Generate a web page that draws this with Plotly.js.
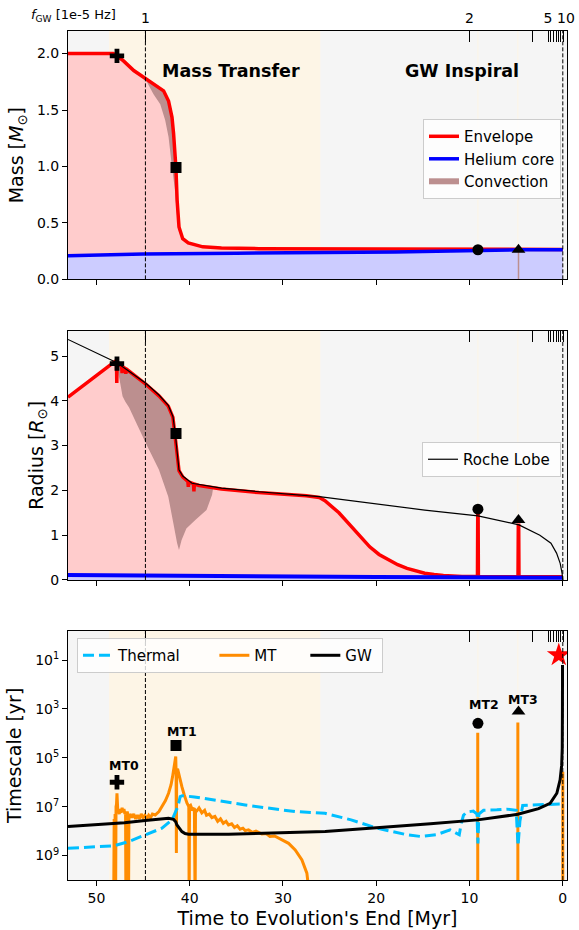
<!DOCTYPE html>
<html>
<head>
<meta charset="utf-8">
<script src="https://cdn.plot.ly/plotly-3.0.1.min.js"></script>
<style>html,body{margin:0;padding:0;background:#fff;}#plot{width:579px;height:930px;}</style>
</head>
<body>
<div id="plot"></div>
<script>
// ---------------- DATA ----------------
// Time to evolution's end [Myr]
const xTicks = [50, 40, 30, 20, 10, 0];

// Top axis: GW frequency ticks (1e-5 Hz) and the times where they fall
const fgwMajorLabel = ['1', '2', '5', '10'];
const fgwMajorTime  = [44.75, 10.0, 1.35, -0.1];
const fgwMinorLabel = ['3', '4', '6', '7', '8', '9'];
const fgwMinorTime  = [3.2, 1.55, 0.95, 0.68, 0.42, 0.2];

// Phases
const mtPhaseStart = [48.65, 9.15, 4.87];
const mtPhaseEnd   = [26.0, 9.05, 4.77];
const dashedTimes  = [44.75, 0.0];

// Panel 1: Mass
const envTimeM = [53.05, 48.2, 47.8, 47.1, 46.0, 44.66, 43.5, 42.8, 42.27, 41.9, 41.73, 41.55, 41.48, 41.35, 41.15, 40.75, 40.16, 38.6, 36.6, 32.6, 26.0, 15.0, 9.1, 4.7, 0.0];
const envMass  = [2.0, 2.0, 1.98, 1.935, 1.85, 1.774, 1.715, 1.67, 1.58, 1.435, 1.29, 1.11, 0.99, 0.70, 0.464, 0.36, 0.323, 0.288, 0.278, 0.272, 0.27, 0.268, 0.268, 0.266, 0.265];
const coreTimeM = [53.05, 45.0, 35.0, 25.0, 18.0, 12.0, 8.0, 4.0, 0.0];
const coreMass  = [0.21, 0.225, 0.232, 0.236, 0.242, 0.252, 0.258, 0.261, 0.262];
const convTopTimeM = [44.66, 43.5, 42.8, 42.27, 41.9, 41.73, 41.55, 41.48, 41.35, 41.15, 41.0];
const convTopMass  = [1.774, 1.715, 1.67, 1.58, 1.435, 1.29, 1.11, 0.99, 0.70, 0.464, 0.40];
const convLowTimeM = [44.66, 43.88, 43.16, 42.63, 42.27, 41.98, 41.6, 41.35, 41.15, 41.0];
const convLowMass  = [1.76, 1.64, 1.55, 1.41, 1.26, 1.05, 0.80, 0.55, 0.42, 0.40];
const convSpikeTimeM = [4.75, 4.75];
const convSpikeMass  = [0.0, 0.26];

// Panel 2: Radius
const envTimeR = [53.05, 50.5, 48.5, 47.85, 47.82, 47.79, 47.5, 47.3, 47.25, 47.2, 46.9, 46.85, 46.8, 45.6, 44.7, 43.3, 42.3, 41.8, 41.55, 41.35, 41.15, 40.75, 40.2, 40.15, 40.1, 39.6, 39.55, 39.5, 39.0, 36.6, 32.6, 27.5, 26.1, 25.5, 24.0, 23.0, 21.7, 20.7, 19.7, 18.7, 17.7, 16.7, 15.7, 14.8, 13.8, 12.8, 10.8, 9.15, 9.12, 9.08, 9.05, 4.8, 4.77, 4.73, 4.7, 0.0];
const envRadius = [4.08, 4.47, 4.8, 4.9, 4.40, 4.88, 4.8, 4.77, 4.62, 4.76, 4.72, 4.6, 4.71, 4.52, 4.37, 4.11, 3.88, 3.63, 3.25, 2.81, 2.44, 2.3, 2.2, 2.08, 2.19, 2.15, 1.98, 2.14, 2.11, 2.03, 1.95, 1.88, 1.84, 1.77, 1.5, 1.27, 0.97, 0.74, 0.57, 0.45, 0.34, 0.26, 0.2, 0.15, 0.12, 0.10, 0.08, 0.075, 1.45, 1.45, 0.075, 0.072, 1.22, 1.22, 0.072, 0.07];
const coreTimeR = [53.05, 40.0, 20.0, 0.0];
const coreRadius = [0.11, 0.085, 0.065, 0.05];
const rocheTime = [53.05, 47.8, 44.7, 43.3, 42.3, 41.8, 41.55, 41.35, 41.15, 40.75, 39.76, 36.6, 32.6, 26.1, 20.7, 14.8, 9.1, 4.7, 2.46, 1.27, 0.67, 0.28, 0.08, 0.0];
const rocheRadius = [5.37, 4.85, 4.39, 4.13, 3.9, 3.65, 3.27, 2.83, 2.46, 2.32, 2.16, 2.05, 1.97, 1.86, 1.71, 1.56, 1.43, 1.23, 1.0, 0.82, 0.6, 0.37, 0.15, 0.0];
const convTopTimeR = [47.8, 47.5, 46.8, 45.6, 44.7, 43.3, 42.3, 41.8, 41.55, 41.35, 41.15, 40.75, 40.2, 39.0, 37.5];
const convTopRadius = [4.88, 4.8, 4.71, 4.52, 4.37, 4.11, 3.88, 3.63, 3.25, 2.81, 2.44, 2.3, 2.2, 2.11, 2.06];
const convLowTimeR = [47.8, 47.5, 47.2, 46.9, 46.5, 45.6, 44.7, 43.3, 42.3, 41.75, 41.35, 41.15, 40.87, 40.36, 39.4, 38.2, 37.6, 37.5];
const convLowRadius = [4.76, 4.45, 4.1, 3.98, 3.85, 3.45, 3.05, 2.46, 1.86, 1.26, 0.82, 0.67, 0.89, 1.15, 1.34, 1.56, 1.9, 2.04];

// Panel 3: Timescales, log10(yr)
const thermalTime = [53.05, 48.1, 46.56, 44.77, 42.98, 41.9, 41.27, 41.02, 40.8, 39.5, 37.6, 34.05, 30.2, 28.7, 25.5, 22.7, 19.9, 16.7, 15.2, 13.6, 12.08, 11.3, 11.1, 10.9, 10.65, 10.3, 9.6, 9.2, 9.1, 9.0, 8.5, 7.07, 6.0, 5.0, 4.8, 4.6, 4.3, 3.5, 2.0, 0.16, 0.0];
const thermalLog = [8.70, 8.6, 8.43, 8.15, 7.88, 7.54, 7.0, 6.59, 6.55, 6.6, 6.72, 6.93, 7.13, 7.2, 7.27, 7.54, 7.88, 8.15, 8.22, 8.15, 7.95, 8.1, 8.15, 7.7, 7.35, 7.22, 7.18, 7.3, 8.5, 7.3, 7.15, 7.13, 7.1, 7.15, 8.6, 7.6, 6.95, 6.93, 6.9, 6.89, 6.89];
const mtTime = [48.15, 48.1, 48.05, 48.0, 47.95, 47.9, 47.85, 47.8, 47.75, 47.7, 47.65, 47.55, 47.45, 47.35, 47.25, 47.15, 47.05, 46.95, 46.88, 46.84, 46.8, 46.7, 46.6, 46.56, 46.52, 46.4, 46.2, 46.0, 45.8, 45.6, 45.4, 45.2, 45.0, 44.8, 44.6, 44.4, 44.2, 44.0, 43.7, 43.3, 42.98, 42.6, 42.27, 42.0, 41.84, 41.63, 41.5, 41.46, 41.43, 41.4, 41.3, 41.2, 41.0, 40.84, 40.6, 40.45, 40.3, 40.1, 40.06, 40.02, 39.9, 39.7, 39.5, 39.42, 39.38, 39.3, 39.0, 38.7, 38.4, 38.2, 37.9, 37.62, 37.3, 37.0, 36.7, 36.4, 36.1, 35.84, 35.5, 35.2, 34.9, 34.6, 34.3, 34.05, 33.7, 33.3, 32.9, 32.26, 31.8, 31.4, 30.9, 30.48, 30.0, 29.4, 28.69, 27.97, 27.44, 27.2, 27.1, 20.0, 9.12, 9.12, 7.0, 4.82, 4.82, 2.0, 0.0, 0.0];
const mtLog = [11, 7.5, 11, 7.3, 11, 7.0, 6.9, 6.45, 7.1, 7.25, 7.15, 7.3, 7.1, 7.25, 7.05, 7.2, 7.1, 7.3, 7.2, 11, 7.35, 7.2, 7.4, 11, 7.5, 7.3, 7.45, 7.3, 7.5, 7.35, 7.5, 7.3, 7.45, 7.35, 7.5, 7.35, 7.45, 7.3, 7.34, 7.2, 7.0, 6.75, 6.45, 6.1, 5.77, 5.22, 4.95, 5.6, 8.9, 5.5, 5.45, 5.63, 5.9, 6.18, 6.5, 6.7, 6.85, 7.0, 11, 7.0, 6.95, 7.15, 7.05, 11, 7.1, 7.2, 7.05, 7.25, 7.15, 7.35, 7.3, 7.45, 7.4, 7.6, 7.5, 7.68, 7.6, 7.75, 7.7, 7.85, 7.78, 7.92, 7.88, 7.98, 7.95, 8.05, 8.0, 8.12, 8.1, 8.22, 8.2, 8.3, 8.38, 8.5, 8.77, 9.18, 9.72, 10.5, 11, null, 11, 3.97, null, 11, 3.56, null, 11, 5.57];
const gwTime = [53.05, 50.1, 47.0, 44.77, 42.27, 41.73, 41.5, 41.37, 41.1, 40.84, 40.5, 40.13, 35.84, 30.0, 25.48, 20.7, 16.7, 14.2, 9.11, 6.8, 4.82, 2.6, 1.36, 0.64, 0.29, 0.12, 0.06, 0.04, 0.03];
const gwLog = [7.81, 7.75, 7.66, 7.57, 7.47, 7.52, 7.62, 7.75, 7.9, 8.02, 8.1, 8.13, 8.13, 8.08, 8.02, 7.88, 7.78, 7.7, 7.54, 7.43, 7.31, 7.08, 6.86, 6.45, 5.9, 5.3, 4.6, 3.0, 1.2];

// Markers for MT0..MT3
const mtLabels   = ['MT0', 'MT1', 'MT2', 'MT3'];
const mtSymbols  = ['cross', 'square', 'circle', 'triangle-up'];
const mtMarkTime = [47.8, 41.47, 9.1, 4.75];
const mtMarkMass = [1.98, 0.99, 0.262, 0.262];
const mtMarkRadius = [4.83, 3.27, 1.58, 1.34];
const mtMarkLog  = [6.0, 4.5, 3.59, 3.11];
const mtLabelTime = [47.1, 40.84, 8.5, 4.22];
const mtLabelLog  = [5.32, 3.93, 2.8, 2.6];
const endTime = [0.43];
const endLog  = [0.8];

const regionLabels = ['Mass Transfer', 'GW Inspiral'];
const regionLabelTime = [35.56, 10.79];
const regionLabelMass = [1.85, 1.85];

// ---------------- STYLE ----------------
const FONT = 'DejaVu Sans, Liberation Sans, sans-serif';
const RED = '#ff0000', BLUE = '#0000ff', PINK = '#ffcccc', LAV = '#ccccff', CONV = '#bc8f8f';
const ORANGE = '#ff8c00', SKY = '#00bfff';
const tRange = [53.05, -0.45];
const pow10 = a => a.map(v => v === null ? null : Math.pow(10, v));
const rev = a => a.slice().reverse();
const NB = '\u00a0';
// small spacing so the crowded "5" and "10" labels stay apart
const fgwMajorText = fgwMajorLabel.map(s => s === '5' ? s + NB : (s === '10' ? NB + s : s));

const traces = [];
// ---- panel 1
traces.push({x: envTimeM, y: envMass, xaxis: 'x', yaxis: 'y', mode: 'none', fill: 'tozeroy', fillcolor: PINK, showlegend: false, hoverinfo: 'skip'});
traces.push({x: coreTimeM, y: coreMass, xaxis: 'x', yaxis: 'y', mode: 'none', fill: 'tozeroy', fillcolor: LAV, showlegend: false, hoverinfo: 'skip'});
traces.push({x: convTopTimeM.concat(rev(convLowTimeM)), y: convTopMass.concat(rev(convLowMass)), xaxis: 'x', yaxis: 'y', mode: 'none', fill: 'toself', fillcolor: CONV, name: 'Convection', legend: 'legend', legendrank: 3});
traces.push({x: convSpikeTimeM, y: convSpikeMass, xaxis: 'x', yaxis: 'y', mode: 'lines', line: {color: CONV, width: 1.5}, showlegend: false});
traces.push({x: envTimeM, y: envMass, xaxis: 'x', yaxis: 'y', mode: 'lines', line: {color: RED, width: 3.5}, name: 'Envelope', legend: 'legend', legendrank: 1});
traces.push({x: coreTimeM, y: coreMass, xaxis: 'x', yaxis: 'y', mode: 'lines', line: {color: BLUE, width: 3.5}, name: 'Helium core', legend: 'legend', legendrank: 2});
// ---- panel 2
traces.push({x: envTimeR, y: envRadius, xaxis: 'x2', yaxis: 'y2', mode: 'none', fill: 'tozeroy', fillcolor: PINK, showlegend: false, hoverinfo: 'skip'});
traces.push({x: convTopTimeR.concat(rev(convLowTimeR)), y: convTopRadius.concat(rev(convLowRadius)), xaxis: 'x2', yaxis: 'y2', mode: 'none', fill: 'toself', fillcolor: CONV, showlegend: false});
traces.push({x: coreTimeR, y: coreRadius, xaxis: 'x2', yaxis: 'y2', mode: 'none', fill: 'tozeroy', fillcolor: LAV, showlegend: false, hoverinfo: 'skip'});
traces.push({x: envTimeR, y: envRadius, xaxis: 'x2', yaxis: 'y2', mode: 'lines', line: {color: RED, width: 3.5}, showlegend: false});
traces.push({x: coreTimeR, y: coreRadius, xaxis: 'x2', yaxis: 'y2', mode: 'lines', line: {color: BLUE, width: 4}, showlegend: false});
traces.push({x: rocheTime, y: rocheRadius, xaxis: 'x2', yaxis: 'y2', mode: 'lines', line: {color: '#000', width: 1.2}, name: 'Roche Lobe' + NB, legend: 'legend2'});
// ---- panel 3
traces.push({x: mtTime, y: pow10(mtLog), xaxis: 'x3', yaxis: 'y3', mode: 'lines', line: {color: ORANGE, width: 3}, name: 'MT' + NB.repeat(5), legend: 'legend3', legendrank: 2, connectgaps: false});
traces.push({x: thermalTime, y: pow10(thermalLog), xaxis: 'x3', yaxis: 'y3', mode: 'lines', line: {color: SKY, width: 3, dash: '11px,5px'}, name: 'Thermal' + NB.repeat(6), legend: 'legend3', legendrank: 1});
traces.push({x: gwTime, y: pow10(gwLog), xaxis: 'x3', yaxis: 'y3', mode: 'lines', line: {color: '#000', width: 3}, name: 'GW' + NB, legend: 'legend3', legendrank: 3});
// ---- markers
const msize = {'cross': 12, 'square': 11, 'circle': 11, 'triangle-up': 12};
mtSymbols.forEach((s, i) => {
  const mk = {symbol: s, size: msize[s], color: '#000'};
  traces.push({x: [mtMarkTime[i]], y: [mtMarkMass[i]], xaxis: 'x', yaxis: 'y', mode: 'markers', marker: mk, showlegend: false});
  traces.push({x: [mtMarkTime[i]], y: [mtMarkRadius[i]], xaxis: 'x2', yaxis: 'y2', mode: 'markers', marker: mk, showlegend: false});
  traces.push({x: [mtMarkTime[i]], y: pow10([mtMarkLog[i]]), xaxis: 'x3', yaxis: 'y3', mode: 'markers', marker: mk, showlegend: false});
});
traces.push({x: endTime, y: pow10(endLog), xaxis: 'x3', yaxis: 'y3', mode: 'markers', marker: {symbol: 'star', size: 18, color: RED}, showlegend: false});
// dummy traces for top (frequency) axes
traces.push({x: [], y: [], xaxis: 'x4', yaxis: 'y', showlegend: false});
traces.push({x: [], y: [], xaxis: 'x5', yaxis: 'y2', showlegend: false});
traces.push({x: [], y: [], xaxis: 'x6', yaxis: 'y3', showlegend: false});

// ---------------- LAYOUT ----------------
const tickFont = {family: FONT, size: 14, color: '#000'};
const titleFont = {family: FONT, size: 19, color: '#000'};
function xAxis(anchor, labels) {
  return {anchor: anchor, domain: [0, 1], range: tRange, tickmode: 'array', tickvals: xTicks,
    ticktext: xTicks.map(String), showticklabels: labels, ticks: 'outside', ticklen: 5, tickwidth: 1, tickcolor: '#000',
    showline: true, mirror: true, linecolor: '#000', linewidth: 1, showgrid: false, zeroline: false, tickfont: tickFont, tickangle: 0};
}
function topAxis(over, anchor, labels) {
  return {overlaying: over, anchor: anchor, side: 'top', range: tRange, tickmode: 'array', tickvals: fgwMajorTime,
    ticktext: fgwMajorText, showticklabels: labels, ticks: 'inside', ticklen: 11, tickwidth: 1, tickcolor: '#000',
    showline: false, showgrid: false, zeroline: false, tickfont: tickFont, tickangle: 0, ticklabelstandoff: 4,
    minor: {tickmode: 'array', tickvals: fgwMinorTime, ticks: 'inside', ticklen: 11, tickwidth: 1, tickcolor: '#000', showgrid: false}};
}
function yAxisBase(anchor, domain) {
  return {anchor: anchor, domain: domain, ticks: 'outside', ticklen: 5, tickwidth: 1, tickcolor: '#000',
    showline: true, mirror: true, linecolor: '#000', linewidth: 1, showgrid: false, zeroline: false, tickfont: tickFont};
}
const xax = xAxis('y', false), xax2 = xAxis('y2', false), xax3 = xAxis('y3', true);
xax3.title = {text: "Time to Evolution's End [Myr]", font: titleFont, standoff: 6};
const yax = Object.assign(yAxisBase('x', [0.7075, 1]), {range: [0, 2.2], tickmode: 'array', tickvals: [0, 0.5, 1, 1.5, 2], ticktext: ['0.0', '0.5', '1.0', '1.5', '2.0'], title: {text: 'Mass [<i>M</i><sub>⊙</sub>]', font: titleFont, standoff: 8}});
const yax2 = Object.assign(yAxisBase('x2', [0.3534, 0.647]), {range: [0, 5.565], tickmode: 'array', tickvals: [0, 1, 2, 3, 4, 5], ticktext: ['0', '1', '2', '3', '4', '5'], title: {text: 'Radius [<i>R</i><sub>⊙</sub>]', font: titleFont, standoff: 1}});
const yax3 = Object.assign(yAxisBase('x3', [0, 0.2936]), {type: 'log', range: [10.0, -0.2], tickmode: 'array', tickvals: [1e1, 1e3, 1e5, 1e7, 1e9], ticktext: ['10<sup>1</sup>', '10<sup>3</sup>', '10<sup>5</sup>', '10<sup>7</sup>', '10<sup>9</sup>'], title: {text: 'Timescale [yr]', font: titleFont, standoff: 8}});

const shapes = [];
['y', 'y2', 'y3'].forEach((ya, k) => {
  const xr = ['x', 'x2', 'x3'][k];
  mtPhaseStart.forEach((s, i) => {
    shapes.push({type: 'rect', xref: xr, yref: ya + ' domain', x0: s, x1: mtPhaseEnd[i], y0: 0, y1: 1, fillcolor: '#fdf5e6', line: {width: 0}, layer: 'below'});
  });
  dashedTimes.forEach(t => {
    shapes.push({type: 'line', xref: xr, yref: ya + ' domain', x0: t, x1: t, y0: 0, y1: 1, line: {color: '#000', width: 1, dash: '4px,2px'}, layer: 'above'});
  });
});

const annotations = [];
regionLabels.forEach((txt, i) => annotations.push({xref: 'x', yref: 'y', x: regionLabelTime[i], y: regionLabelMass[i], text: '<b>' + txt + '</b>', showarrow: false, font: {family: FONT, size: 17.5, color: '#000'}}));
mtLabels.forEach((txt, i) => annotations.push({xref: 'x3', yref: 'y3', x: mtLabelTime[i], y: mtLabelLog[i], text: '<b>' + txt + '</b>', showarrow: false, font: {family: FONT, size: 12.5, color: '#000'}}));
annotations.push({xref: 'paper', yref: 'paper', x: 0.1002, y: 1.0188, xanchor: 'right', yanchor: 'middle', text: '<i>f</i><sub>GW</sub> [1e-5 Hz]', showarrow: false, font: {family: FONT, size: 13, color: '#000'}});

const legendBase = {bgcolor: 'rgba(255,255,255,0.8)', bordercolor: '#cccccc', borderwidth: 1, font: {family: FONT, size: 15, color: '#000'}};
const layout = {
  width: 579, height: 930,
  margin: {l: 68, r: 12, t: 31, b: 50},
  paper_bgcolor: '#ffffff', plot_bgcolor: '#f5f5f5',
  font: {family: FONT, color: '#000'},
  xaxis: xax, xaxis2: xax2, xaxis3: xax3,
  xaxis4: topAxis('x', 'y', true), xaxis5: topAxis('x2', 'y2', false), xaxis6: topAxis('x3', 'y3', false),
  yaxis: yax, yaxis2: yax2, yaxis3: yax3,
  shapes: shapes, annotations: annotations,
  legend: Object.assign({}, legendBase, {x: 0.988, xanchor: 'right', y: 0.8963, yanchor: 'top', traceorder: 'normal'}),
  legend2: Object.assign({}, legendBase, {x: 0.988, xanchor: 'right', y: 0.5159, yanchor: 'top'}),
  legend3: Object.assign({}, legendBase, {x: 0.018, xanchor: 'left', y: 0.285, yanchor: 'top', orientation: 'h'}),
  showlegend: true
};
Plotly.newPlot('plot', traces, layout, {staticPlot: true, displayModeBar: false});
</script>
</body>
</html>
